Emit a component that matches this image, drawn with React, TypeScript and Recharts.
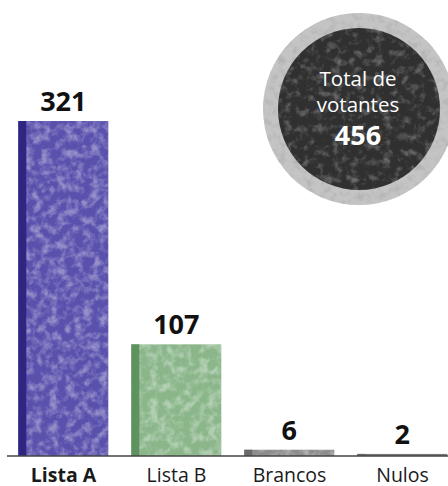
import { BarChart, Bar, XAxis, YAxis, LabelList } from "recharts";

const categories = ["Lista A", "Lista B", "Brancos", "Nulos"];
const votes = [321, 107, 6, 2];
const totalVoters = 456;
const totalLines = ["Total de", "votantes"];

const barColors = ["#5a51ad", "#8ab68a", "#8c8c8c", "#7a7a7a"];
const stripeColors = ["#2e2681", "#5e935f", "#6a6a6a", "#6a6a6a"];

const data = categories.map((name, i) => ({
  name,
  votes: votes[i],
  fill: barColors[i],
  stripe: stripeColors[i],
}));

const FONT = "'Open Sans', 'Noto Sans', sans-serif";

function TexturedBar(props: any) {
  const { x, y, width, height, payload } = props;
  if (!height || height <= 0) return null;
  const stripeW = Math.min(8, width);
  return (
    <g>
      <rect x={x} y={y} width={width} height={height} fill={payload.fill} />
      {height > 4 && (
        <rect
          x={x}
          y={y}
          width={width}
          height={height}
          fill="#ffffff"
          opacity={0.35}
          filter="url(#mottle)"
        />
      )}
      <rect x={x} y={y} width={stripeW} height={height} fill={payload.stripe} />
    </g>
  );
}

function CategoryTick(props: any) {
  const { x, y, payload } = props;
  const bold = payload.value === categories[0];
  return (
    <text
      x={x}
      y={y + 26}
      textAnchor="middle"
      fontFamily={FONT}
      fontSize={19.5}
      fontWeight={bold ? 700 : 400}
      fill="#1a1a1a"
    >
      {payload.value}
    </text>
  );
}

function ValueLabel(props: any) {
  const { x, y, width, value } = props;
  return (
    <text
      x={x + width / 2}
      y={y - 10}
      textAnchor="middle"
      fontFamily={FONT}
      fontSize={27}
      fontWeight={700}
      fill="#111"
    >
      {value}
    </text>
  );
}

function TotalBadge() {
  const cx = 359;
  const cy = 109;
  return (
    <svg
      width={448}
      height={486}
      style={{ position: "absolute", left: 0, top: 0, pointerEvents: "none" }}
    >
      <defs>
        <filter id="ringNoise" x="0" y="0" width="100%" height="100%">
          <feTurbulence type="fractalNoise" baseFrequency="0.14" numOctaves="5" seed="7" result="n" />
          <feColorMatrix
            in="n"
            type="matrix"
            values="0 0 0 0 0.4  0 0 0 0 0.4  0 0 0 0 0.4  2.4 0 0 0 -1.1"
          />
          <feComposite in2="SourceGraphic" operator="in" />
        </filter>
        <filter id="coreNoise" x="0" y="0" width="100%" height="100%">
          <feTurbulence type="fractalNoise" baseFrequency="0.12" numOctaves="5" seed="11" result="n" />
          <feColorMatrix
            in="n"
            type="matrix"
            values="0 0 0 0 0.5  0 0 0 0 0.5  0 0 0 0 0.5  2.4 0 0 0 -1.15"
          />
          <feComposite in2="SourceGraphic" operator="in" />
        </filter>
      </defs>
      <circle cx={cx} cy={cy} r={96} fill="#c4c4c4" />
      <circle cx={cx} cy={cy} r={96} fill="#fff" opacity={0.7} filter="url(#ringNoise)" />
      <circle cx={cx} cy={cy} r={81} fill="#303030" />
      <circle cx={cx} cy={cy} r={81} fill="#fff" opacity={0.45} filter="url(#coreNoise)" />
      <text x={cx - 1} y={86} textAnchor="middle" fontFamily={FONT} fontSize={20.5} fill="#fff">
        {totalLines[0]}
      </text>
      <text x={cx - 1} y={112} textAnchor="middle" fontFamily={FONT} fontSize={20.5} fill="#fff">
        {totalLines[1]}
      </text>
      <text
        x={cx - 1}
        y={145}
        textAnchor="middle"
        fontFamily={FONT}
        fontSize={27}
        fontWeight={700}
        fill="#fff"
      >
        {totalVoters}
      </text>
    </svg>
  );
}

export default function App() {
  return (
    <div
      style={{
        position: "absolute",
        left: 0,
        top: 0,
        width: 448,
        height: 486,
        overflow: "hidden",
        background: "#fff",
      }}
    >
      <BarChart
        width={459}
        height={486}
        data={data}
        margin={{ top: 121, right: 0, left: 7, bottom: 0 }}
        barCategoryGap="10%"
      >
        <defs>
          <filter id="mottle" x="0" y="0" width="100%" height="100%">
            <feTurbulence type="fractalNoise" baseFrequency="0.12" numOctaves="5" seed="4" result="n" />
            <feColorMatrix
              in="n"
              type="matrix"
              values="0 0 0 0 1  0 0 0 0 1  0 0 0 0 1  2.8 0 0 0 -1.15"
            />
            <feComposite in2="SourceGraphic" operator="in" />
          </filter>
        </defs>
        <XAxis
          dataKey="name"
          height={30}
          axisLine={{ stroke: "#444", strokeWidth: 1.5 }}
          tickLine={false}
          tickSize={0}
          tickMargin={0}
          interval={0}
          tick={<CategoryTick />}
        />
        <YAxis hide domain={[0, "dataMax"]} />
        <Bar dataKey="votes" shape={<TexturedBar />} isAnimationActive={false}>
          <LabelList dataKey="votes" content={<ValueLabel />} />
        </Bar>
      </BarChart>
      <TotalBadge />
    </div>
  );
}
